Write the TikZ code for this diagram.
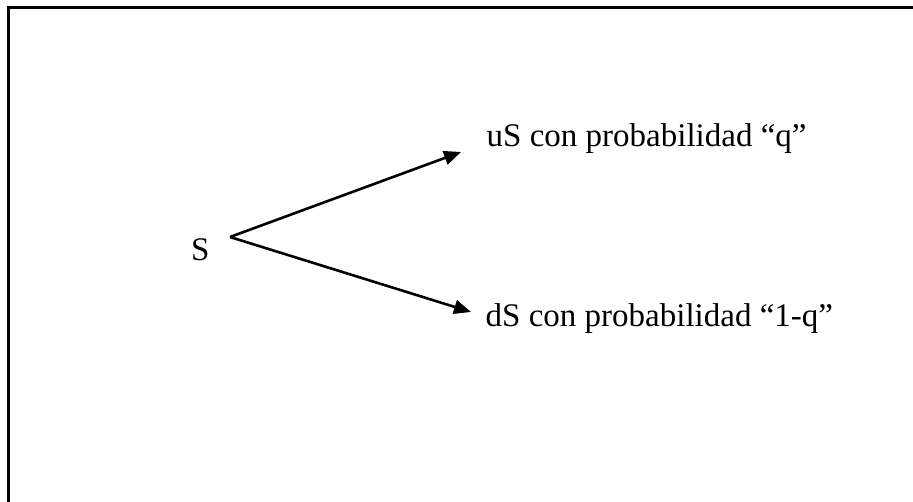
\documentclass[tikz,border=0pt]{standalone}
\usepackage{fontspec}
\setmainfont{Liberation Serif}
\usetikzlibrary{arrows.meta}
\begin{document}
\begin{tikzpicture}[x=1pt,y=-1pt,
  lbl/.style={anchor=base west,inner sep=0pt,font=\fontsize{33}{40}\selectfont},
  branch/.style={line width=2.6pt,-{Triangle[length=17pt,width=14pt]}},
  frame/.style={line width=2.6pt}]
\useasboundingbox (0,0) rectangle (913,502);
\draw[frame] (8.5,502) -- (8.5,7.5) -- (913,7.5);
\node[lbl] (s) at (191,260.5) {S};
\node[lbl] (up) at (486.5,147) {uS con probabilidad “q”};
\node[lbl] (down) at (485.5,326.5) {dS con probabilidad “1-q”};
\coordinate (o) at (230,237);
\coordinate (tu) at (461,152);
\coordinate (td) at (471,312);
\draw[branch] (o) -- (tu);
\draw[branch] (o) -- (td);
\end{tikzpicture}
\end{document}
